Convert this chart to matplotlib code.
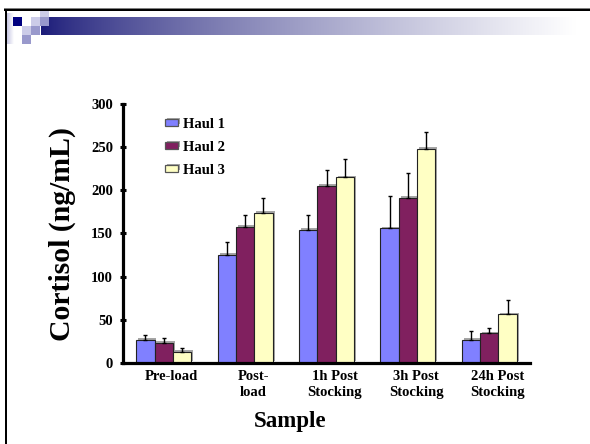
import numpy as np
import matplotlib
matplotlib.use("Agg")
import matplotlib.pyplot as plt
from matplotlib.patches import Rectangle
from matplotlib import patheffects as pe

categories = ["Pre-load", "Post-\nload", "1h Post\nStocking", "3h Post\nStocking", "24h Post\nStocking"]
series = ["Haul 1", "Haul 2", "Haul 3"]
haul1 = [26.5, 125, 154, 156, 26.5]
haul2 = [23.5, 158, 205, 191, 34.5]
haul3 = [13, 174, 215, 248, 56.5]
err1 = [5.5, 15.5, 17, 38, 10]
err2 = [5, 13, 19, 29, 5.5]
err3 = [4.5, 17, 21, 19.5, 16]
yticks = [0, 50, 100, 150, 200, 250, 300]

colors = ["#8080FF", "#80205F", "#FFFFC4"]
FONT = "Liberation Serif"
W, H = 590, 444

fig = plt.figure(figsize=(W / 100, H / 100), dpi=100)
fig.patch.set_facecolor("white")

# ---- slide decoration (pixel coordinates) ----
deco = fig.add_axes([0, 0, 1, 1], zorder=0)
deco.set_xlim(0, W)
deco.set_ylim(H, 0)
deco.axis("off")

# gradient bar
x0, x1 = 40.5, 575
xs = np.linspace(0, 1, 600)
t = xs ** 0.75
navy = np.array([26, 26, 120]) / 255.0
white = np.array([1.0, 1.0, 1.0])
grad = (navy[None, :] * (1 - t[:, None]) + white[None, :] * t[:, None])[None, :, :]
deco.imshow(grad, extent=[x0, x1, 35, 17], aspect="auto", zorder=1, interpolation="bilinear")
# left fading strip
ls = np.linspace(0, 1, 50)
lav = np.array([200, 200, 228]) / 255.0
g2 = (lav[None, :] * (1 - ls[:, None]) + white[None, :] * ls[:, None])[None, :, :]
deco.imshow(g2, extent=[7, 13.3, 44, 13], aspect="auto", zorder=1, interpolation="bilinear")

cell = 9.0
cols = [13.3, 22.3, 31.3, 40.3]
rows = [8.0, 17.0, 26.0, 35.0]
light = "#CCCCE8"
medium = "#9999CC"
squares = [
    (0, 1, "#000080"),
    (2, 1, light),
    (3, 0, light),
    (3, 1, medium),
    (1, 2, light),
    (2, 2, medium),
    (1, 3, medium),
]
for c, r, col in squares:
    deco.add_patch(Rectangle((cols[c], rows[r]), cell, cell, facecolor=col, edgecolor="none", zorder=2))

# frame lines
deco.add_patch(Rectangle((4, 7.6), W, 1.6, facecolor="#7f7f7f", edgecolor="none", zorder=3))
deco.add_patch(Rectangle((4, 9.2), W, 2.2, facecolor="black", edgecolor="none", zorder=3))
deco.add_patch(Rectangle((4.5, 9.2), 2.0, H, facecolor="black", edgecolor="none", zorder=3))

# ---- chart ----
ax = fig.add_axes([123 / W, 1 - 363 / H, (530 - 123) / W, (363 - 104) / H], zorder=2)
ax.set_facecolor("none")

x = np.arange(len(categories))
w = 0.225
vals = [haul1, haul2, haul3]
errs = [err1, err2, err3]
shadow = [pe.SimplePatchShadow(offset=(1.4, 1.2), shadow_rgbFace="#808080", alpha=0.7), pe.Normal()]
for i, (v, e) in enumerate(zip(vals, errs)):
    pos = x + (i - 1) * w
    bars = ax.bar(pos, v, width=w, color=colors[i], edgecolor="#222222", linewidth=0.8,
                  label=series[i], zorder=2)
    for b in bars:
        b.set_path_effects(shadow)
    ax.errorbar(pos, v, yerr=[np.zeros(len(v)), e], fmt="none", ecolor="black",
                elinewidth=1.0, capsize=1.7, capthick=1.0, zorder=3)

ax.set_xlim(-0.5, len(categories) - 0.5)
ax.set_ylim(0, 300)
ax.set_yticks(yticks)
ax.set_yticklabels([str(v) for v in yticks], fontfamily=FONT, fontweight="bold", fontsize=10.5)
# category labels sit slightly right of the group centres, as in the reference
ax.set_xticks(x + 0.1)
ax.set_xticklabels(categories, fontfamily=FONT, fontweight="bold", fontsize=10.5, linespacing=1.3)

for s in ["top", "right"]:
    ax.spines[s].set_visible(False)
for s in ["left", "bottom"]:
    ax.spines[s].set_linewidth(2.3)
    ax.spines[s].set_color("black")

ax.tick_params(axis="y", direction="inout", length=4.5, width=2.2, pad=5.0, colors="black")
ax.tick_params(axis="x", length=0, pad=5.0)

ax.set_ylabel("Cortisol (ng/mL)", fontfamily=FONT, fontweight="bold", fontsize=21.4)
ax.yaxis.label.set_va("center")
ax.yaxis.set_label_coords((62 - 123) / 407, (363 - 234) / 259)
ax.set_xlabel("Sample", fontfamily=FONT, fontweight="bold", fontsize=16.5)
ax.xaxis.label.set_va("center")
ax.xaxis.set_label_coords((290 - 123) / 407, (363 - 421) / 259)

leg = ax.legend(loc="upper left", bbox_to_anchor=((165 - 123) / 407, (363 - 118) / 259),
                frameon=False, borderpad=0, borderaxespad=0, handlelength=0.87, handleheight=0.34,
                handletextpad=0.38, labelspacing=0.68,
                prop={"family": FONT, "weight": "bold", "size": 10.5})
for h in leg.legend_handles:
    h.set_edgecolor("#555555")
    h.set_linewidth(0.9)

fig.savefig("out.png", dpi=100, facecolor="white")
